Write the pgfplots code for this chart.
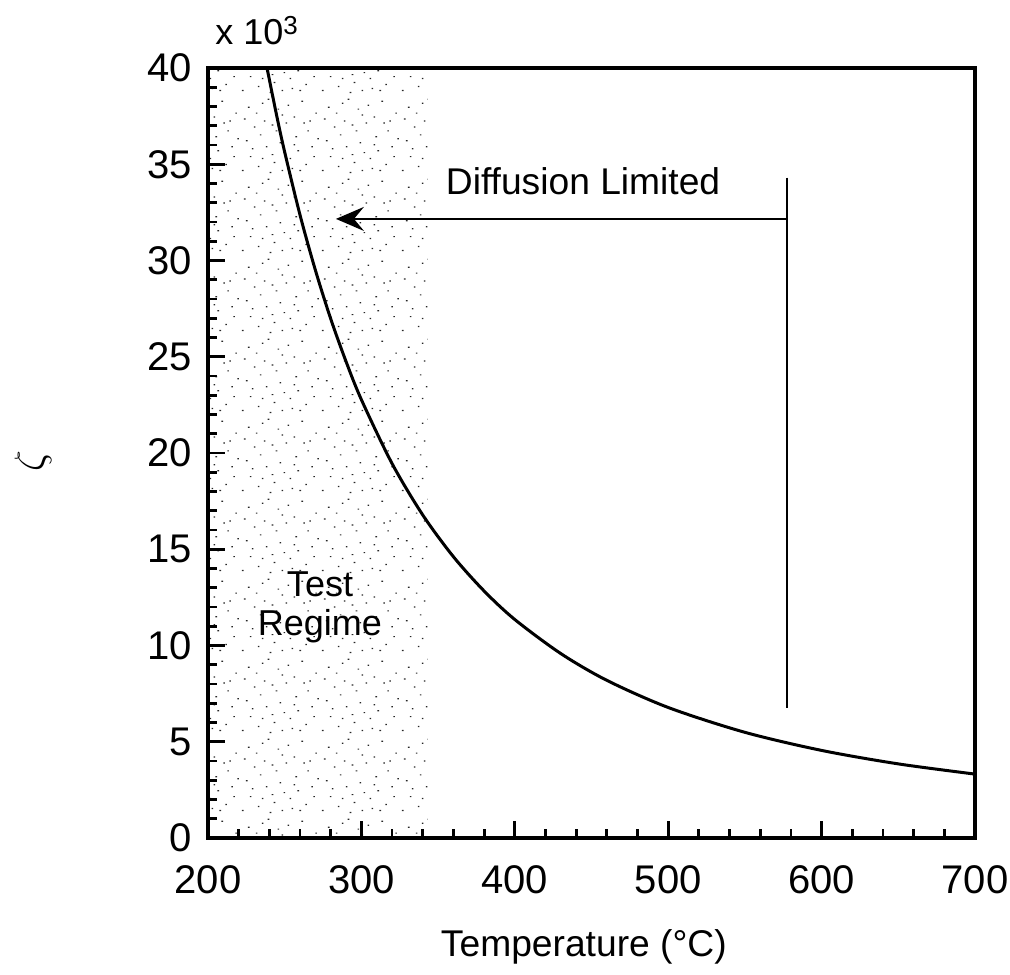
\documentclass[border=0pt]{standalone}
\usepackage{pgfplots}
\pgfplotsset{compat=1.18}
\usepackage{fontspec}
\setmainfont{Liberation Sans}
\usetikzlibrary{arrows.meta,patterns}
\pgfdeclarepatternformonly{stipple}{\pgfqpoint{0pt}{0pt}}{\pgfqpoint{40pt}{40pt}}{\pgfqpoint{40pt}{40pt}}{%
  \foreach \x/\y in {1/2,5/9,9/4,13/14,17/6,22/11,26/3,28/19,3/17,7/24,12/27,18/22,23/26,27/29,15/1,20/16,10/20,25/8,2/28,6/13,16/25,29/12,11/8,21/2,
     33/5,36/14,38/31,34/22,31/37,24/35,14/38,4/34,8/31,19/33,35/27,37/9,30/2,39/18,21/30,11/36,16/10,27/15,32/26}{%
    \pgfpathrectangle{\pgfqpoint{\x pt}{\y pt}}{\pgfqpoint{0.8pt}{0.6pt}}%
  }%
  \pgfusepath{fill}%
}
\begin{document}
\begin{tikzpicture}
\useasboundingbox (-104pt,-68pt) rectangle (401pt,419pt);
\begin{axis}[
  at={(0,0)}, anchor=south west,
  scale only axis, width=383.5pt, height=385pt,
  xmin=200, xmax=700, ymin=0, ymax=40,
  xtick={200,300,...,700}, ytick={0,5,...,40},
  minor x tick num=4, minor y tick num=4,
  tick align=inside, xtick pos=bottom, ytick pos=left,
  major tick length=8.5pt, minor tick length=4.5pt,
  every tick/.style={black, line width=1.4pt},
  axis line style={line width=2pt},
  axis on top,
  scaled ticks=false,
  /pgf/number format/assume math mode=true,
  ticklabel style={font=\fontsize{20}{22}\selectfont},
  xticklabel style={yshift=-10pt},
  yticklabel style={xshift=-4.5pt},
  xlabel={Temperature (°C)},
  xlabel style={font=\fontsize{18.6}{21}\selectfont, at={(axis description cs:0.49,-0.1416)}, anchor=center},
  ylabel={$\zeta$},
  ylabel style={font=\fontsize{20}{22}\selectfont, at={(axis description cs:-0.228,0.49)}, anchor=center},
  clip=false,
]
\addplot[draw=none, pattern=stipple, pattern color=black!85] coordinates {(200,40) (343.4,40)} \closedcycle;
\addplot[black, line width=1.5pt, smooth] coordinates {
(238.5,39.99) (245,37.44) (250,35.63) (260,32.36) (270,29.50) (280,26.97) (290,24.75) (300,22.77)
(320,19.45) (340,16.78) (360,14.61) (380,12.83) (400,11.35) (430,9.58) (460,8.19) (500,6.78)
(550,5.49) (600,4.55) (650,3.85) (700,3.32)
};
\draw[line width=1pt] (axis cs:577.4,34.3) -- (axis cs:577.4,6.75);
\draw[line width=1pt, -{Stealth[length=14pt,width=12pt,inset=5pt]}] (axis cs:577.4,32.16) -- (axis cs:283.4,32.16);
\node[font=\fontsize{18.6}{21}\selectfont] at (axis cs:444.5,34.1) {Diffusion Limited};
\node[font=\fontsize{18}{19.5}\selectfont, align=center] at (axis cs:273,12.0) {Test\\Regime};
\node[font=\fontsize{18}{20}\selectfont, anchor=base west, inner sep=0pt] at (rel axis cs:0.009,1.03) {x 10\raisebox{0.3em}{\fontsize{13}{14}\selectfont 3}};
\end{axis}
\end{tikzpicture}
\end{document}
